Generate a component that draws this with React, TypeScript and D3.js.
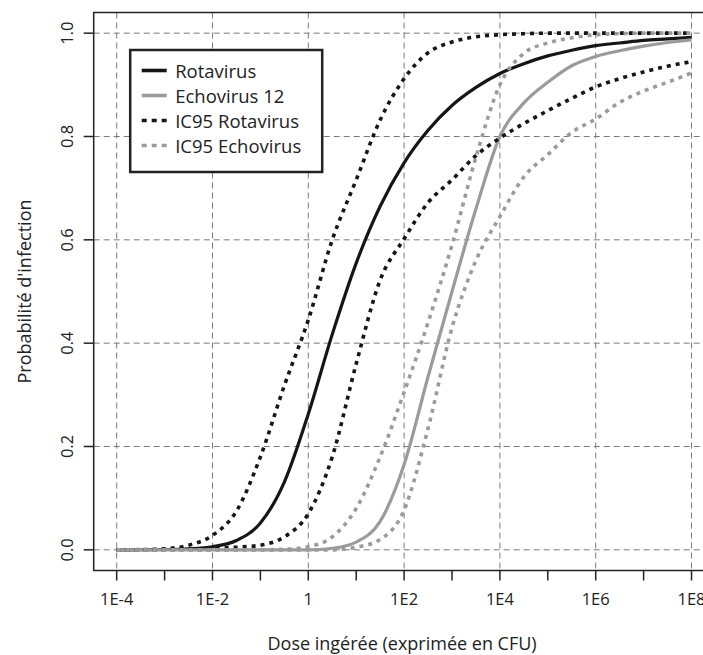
import React from 'react';
import * as d3 from 'd3';

// log10 of ingested dose (CFU)
const logDose = [-4, -3.5, -3, -2.5, -2, -1.5, -1, -0.5, 0, 0.5, 1, 1.5, 2, 2.5, 3, 3.5, 4, 4.5, 5, 5.5, 6, 6.5, 7, 7.5, 8];

const rotavirus = [0, 0.0002, 0.0006, 0.002, 0.006, 0.018, 0.052, 0.131, 0.263, 0.417, 0.555, 0.665, 0.749, 0.812, 0.86, 0.895, 0.922, 0.941, 0.956, 0.967, 0.976, 0.981, 0.986, 0.989, 0.992];
const rotavirusHigh = [0, 0.0005, 0.002, 0.009, 0.028, 0.075, 0.18, 0.318, 0.445, 0.6, 0.716, 0.832, 0.912, 0.962, 0.983, 0.993, 0.997, 0.999, 1, 1, 1, 1, 1, 1, 1];
const rotavirusLow = [0, 0, 0.0005, 0.0015, 0.003, 0.005, 0.009, 0.025, 0.07, 0.18, 0.36, 0.522, 0.602, 0.672, 0.716, 0.763, 0.797, 0.825, 0.85, 0.874, 0.896, 0.912, 0.925, 0.936, 0.945];
const echovirus = [0, 0, 0, 0, 0, 0, 0, 0, 0, 0.003, 0.015, 0.055, 0.165, 0.335, 0.5, 0.66, 0.8, 0.865, 0.905, 0.937, 0.955, 0.966, 0.975, 0.982, 0.987];
const echovirusHigh = [0, 0, 0, 0, 0, 0, 0, 0.001, 0.006, 0.025, 0.08, 0.18, 0.305, 0.44, 0.59, 0.76, 0.9, 0.961, 0.981, 0.991, 0.997, 0.999, 1, 1, 1];
const echovirusLow = [0, 0, 0, 0, 0, 0, 0, 0, 0, 0, 0.005, 0.02, 0.077, 0.235, 0.43, 0.56, 0.645, 0.722, 0.765, 0.808, 0.834, 0.866, 0.888, 0.905, 0.923];

const xTickValues = [1e-4, 1e-2, 1, 1e2, 1e4, 1e6, 1e8];
const xTickLabels = ['1E-4', '1E-2', '1', '1E2', '1E4', '1E6', '1E8'];
const xMinorTicks = [1e-3, 1e-1, 1e1, 1e3, 1e5, 1e7];
const yTickValues = [0, 0.2, 0.4, 0.6, 0.8, 1.0];
const yTickLabels = ['0.0', '0.2', '0.4', '0.6', '0.8', '1.0'];

const legendLabels = ['Rotavirus', 'Echovirus 12', 'IC95 Rotavirus', 'IC95 Echovirus'];

const BLACK = '#161616';
const GREY = '#9b9b9b';
const FONT = '"Open Sans", "DejaVu Sans", sans-serif';

const W = 703, H = 655;
const left = 93.7, right = 714.5, top = 12.5, bottom = 570.5;

const App = () => {
    var x = d3.scaleLog()
        .domain([Math.pow(10, -4.48), Math.pow(10, 8.48)])
        .range([left, right]);
    var y = d3.scaleLinear()
        .domain([-0.04, 1.04])
        .range([bottom, top]);

    var line = d3.line<number>()
        .x((d, i) => x(Math.pow(10, logDose[i])))
        .y(d => y(d))
        .curve(d3.curveMonotoneX);

    const series = [
        { values: rotavirus, color: BLACK, dotted: false },
        { values: echovirus, color: GREY, dotted: false },
        { values: rotavirusHigh, color: BLACK, dotted: true },
        { values: rotavirusLow, color: BLACK, dotted: true },
        { values: echovirusHigh, color: GREY, dotted: true },
        { values: echovirusLow, color: GREY, dotted: true },
    ];
    const legendStyles = [
        { color: BLACK, dotted: false },
        { color: GREY, dotted: false },
        { color: BLACK, dotted: true },
        { color: GREY, dotted: true },
    ];

    // legend box position (px, from the plot corner)
    const lgX = left + 36.5, lgY = top + 37.5, lgW = 192, lgH = 122;

    return (
        <div style={{ position: 'absolute', left: 0, top: 0 }}>
            <svg width={W} height={H} viewBox={`0 0 ${W} ${H}`} style={{ display: 'block', background: '#fff' }}>
                <defs>
                    <clipPath id="plotClip">
                        <rect x={left} y={top} width={right - left} height={bottom - top} />
                    </clipPath>
                </defs>
                {/* grid */}
                <g stroke="#7a7a7a" strokeWidth={1} strokeDasharray="6,4" fill="none">
                    {xTickValues.map((v, i) => (
                        <line key={'gx' + i} x1={x(v)} x2={x(v)} y1={top} y2={bottom} />
                    ))}
                    {yTickValues.map((v, i) => (
                        <line key={'gy' + i} x1={left} x2={right} y1={y(v)} y2={y(v)} />
                    ))}
                </g>
                {/* curves */}
                <g clipPath="url(#plotClip)" fill="none">
                    {series.map((s, i) => (
                        <path key={'s' + i} d={line(s.values) || ''} stroke={s.color}
                            strokeWidth={s.dotted ? 3.6 : 3.2}
                            strokeDasharray={s.dotted ? '4,5' : undefined}
                            strokeLinecap="butt" />
                    ))}
                </g>
                {/* box */}
                <rect x={left} y={top} width={right - left} height={bottom - top} fill="none" stroke="#222" strokeWidth={1.5} />
                {/* x axis */}
                <g stroke="#222" strokeWidth={1.5}>
                    {xTickValues.concat(xMinorTicks).map((v, i) => (
                        <line key={'tx' + i} x1={x(v)} x2={x(v)} y1={bottom} y2={bottom + 10} />
                    ))}
                </g>
                <g fontFamily={FONT} fontSize={16.5} fill="#222" textAnchor="middle">
                    {xTickValues.map((v, i) => (
                        <text key={'lx' + i} x={x(v)} y={bottom + 27.5} dominantBaseline="central">{xTickLabels[i]}</text>
                    ))}
                </g>
                {/* y axis */}
                <g stroke="#222" strokeWidth={1.5}>
                    {yTickValues.map((v, i) => (
                        <line key={'ty' + i} x1={left - 10} x2={left} y1={y(v)} y2={y(v)} />
                    ))}
                </g>
                <g fontFamily={FONT} fontSize={16.5} fill="#222" textAnchor="middle">
                    {yTickValues.map((v, i) => (
                        <text key={'ly' + i} transform={`translate(${left - 27},${y(v)}) rotate(-90)`} dominantBaseline="central">{yTickLabels[i]}</text>
                    ))}
                </g>
                {/* axis titles */}
                <text x={(left + right) / 2 - 2} y={643} fontFamily={FONT} fontSize={18} fill="#222"
                    textAnchor="middle" dominantBaseline="central">Dose ingérée (exprimée en CFU)</text>
                <text transform={`translate(24,${(top + bottom) / 2}) rotate(-90)`} fontFamily={FONT} fontSize={18} fill="#222"
                    textAnchor="middle" dominantBaseline="central">Probabilité d'infection</text>
                {/* legend */}
                <rect x={lgX} y={lgY} width={lgW} height={lgH} fill="#fff" stroke="#222" strokeWidth={2.5} />
                {legendLabels.map((lab, i) => {
                    const ly = lgY + 20.5 + i * 25;
                    const st = legendStyles[i];
                    return (
                        <g key={'lg' + i}>
                            <line x1={lgX + 11.5} x2={lgX + 36.5} y1={ly} y2={ly} stroke={st.color}
                                strokeWidth={3.6}
                                strokeDasharray={st.dotted ? '5,5' : undefined} />
                            <text x={lgX + 45} y={ly} fontFamily={FONT} fontSize={18.5} fill="#222"
                                dominantBaseline="central">{lab}</text>
                        </g>
                    );
                })}
            </svg>
        </div>
    );
};

export default App;
